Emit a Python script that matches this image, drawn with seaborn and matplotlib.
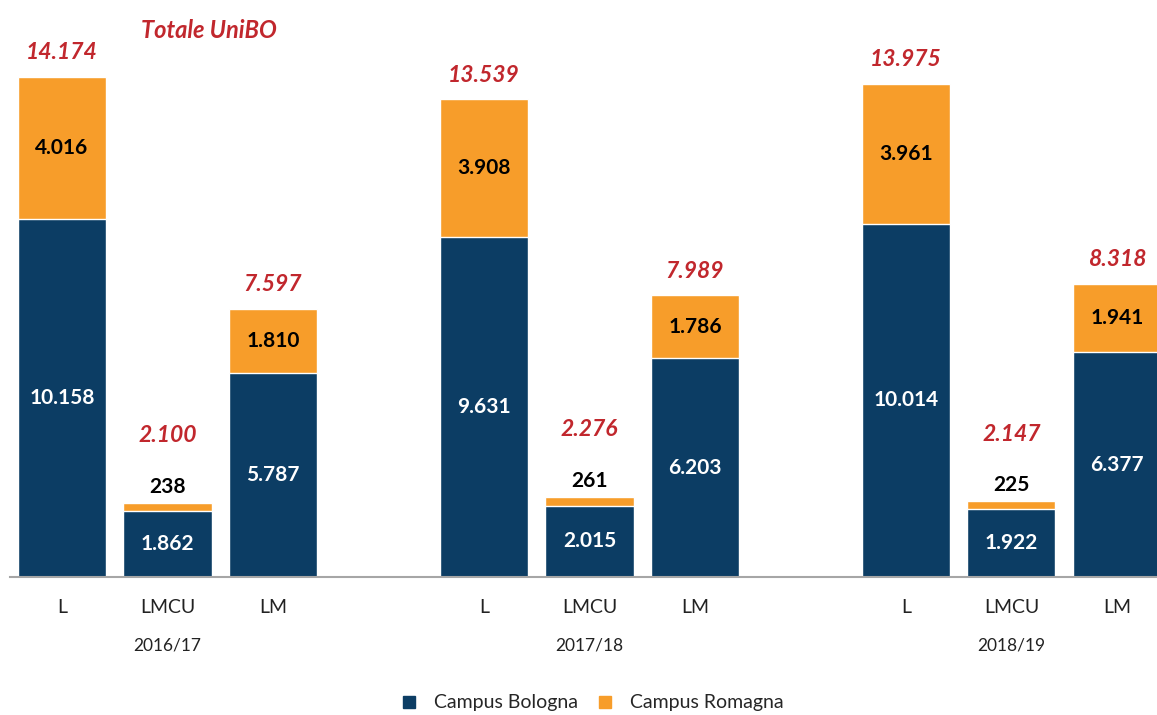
import pandas as pd
import numpy as np
import seaborn as sns
import matplotlib.pyplot as plt
from matplotlib.lines import Line2D

# dati: iscritti per tipo di corso e anno accademico
anni = ["2016/17", "2017/18", "2018/19"]
corsi = ["L", "LMCU", "LM"]
bologna = [10158, 1862, 5787, 9631, 2015, 6203, 10014, 1922, 6377]
romagna = [4016, 238, 1810, 3908, 261, 1786, 3961, 225, 1941]

NAVY = "#0C3D64"
ORANGE = "#F79D2A"
RED = "#C1272D"

def fmt(v):
    return f"{v:,}".replace(",", ".")

# posizioni con uno spazio vuoto tra gli anni
pos = [g * 4 + i for g in range(len(anni)) for i in range(len(corsi))]
df = pd.DataFrame({
    "pos": pos,
    "corso": corsi * len(anni),
    "anno": np.repeat(anni, len(corsi)),
    "bologna": bologna,
    "romagna": romagna,
})
df["totale"] = df["bologna"] + df["romagna"]

sns.set_theme(style="white")
plt.rcParams["font.family"] = ["Lato", "DejaVu Sans"]

fig = plt.figure(figsize=(11.57, 7.15), dpi=100)
ax = fig.add_axes([10 / 1157, 138 / 715, 1 - 10 / 1157, 577 / 715])

sns.barplot(data=df, x="pos", y="totale", native_scale=True, color=ORANGE,
            saturation=1, width=0.835, errorbar=None, ax=ax)
sns.barplot(data=df, x="pos", y="bologna", native_scale=True, color=NAVY,
            saturation=1, width=0.835, errorbar=None, ax=ax)

ax.set_xlim(-0.493, 10.38)
ax.set_ylim(0, 16355)

for _, r in df.iterrows():
    x = r["pos"]
    ax.text(x, r["bologna"] / 2, fmt(r["bologna"]), ha="center", va="center",
            color="white", fontsize=15, fontweight="bold")
    if r["romagna"] > 1000:
        ax.text(x, r["bologna"] + r["romagna"] / 2, fmt(r["romagna"]),
                ha="center", va="center", color="black", fontsize=15,
                fontweight="bold")
        ax.text(x, r["totale"] + 680, fmt(r["totale"]), ha="center",
                va="center", color=RED, fontsize=16.5, fontweight="bold",
                fontstyle="italic")
    else:
        ax.text(x, r["totale"] + 450, fmt(r["romagna"]), ha="center",
                va="center", color="black", fontsize=15, fontweight="bold")
        ax.text(x, r["totale"] + 1900, fmt(r["totale"]), ha="center",
                va="center", color=RED, fontsize=16.5, fontweight="bold",
                fontstyle="italic")

ax.text(1.39, 15500, "Totale UniBO", ha="center", va="center", color=RED,
        fontsize=17, fontweight="bold", fontstyle="italic")

ax.set_xticks(df["pos"])
ax.set_xticklabels(df["corso"], fontsize=14, color="#222222")
ax.tick_params(axis="x", length=0, pad=16)
ax.set_yticks([])
ax.set_xlabel("")
ax.set_ylabel("")
for s in ["top", "right", "left"]:
    ax.spines[s].set_visible(False)
ax.spines["bottom"].set_color("#A6A6A6")
ax.spines["bottom"].set_linewidth(1.5)

for g, anno in enumerate(anni):
    ax.text(g * 4 + 1, -1950, anno, ha="center", va="center",
            fontsize=12.5, color="#222222")

handles = [
    Line2D([], [], marker="s", linestyle="", color=NAVY, markersize=9),
    Line2D([], [], marker="s", linestyle="", color=ORANGE, markersize=9),
]
fig.legend(handles, ["Campus Bologna", "Campus Romagna"], loc="center",
           bbox_to_anchor=(0.507, 0.017), ncol=2, frameon=False,
           fontsize=14, handletextpad=0.3, columnspacing=0.4)

fig.savefig("out.png", dpi=100)
